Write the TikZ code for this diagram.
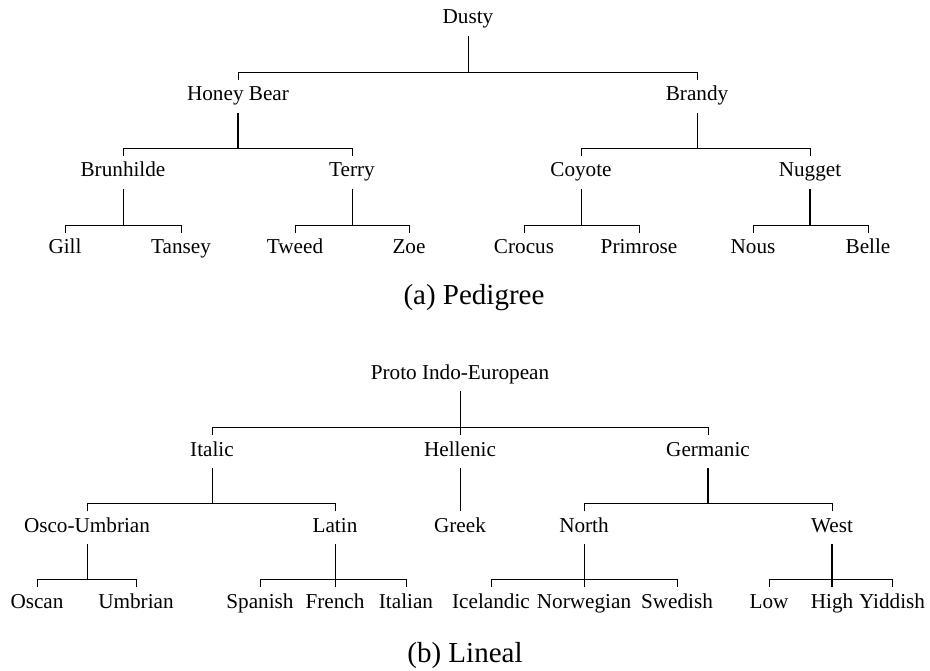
\documentclass[tikz,border=0pt]{standalone}
\usepackage{fontspec}
\setmainfont{Liberation Serif}
\usetikzlibrary{calc}

% Draws the bracket joining a parent to its first and last child:
% a stem from the parent down to a bar, with short ticks at both ends.
\newcommand\brood[4][]{%
  \draw (#3.north) -- ++(0,-8) coordinate (bar) -| (#4.north);
  \draw[#1] (#2.south) -- (#2.south |- bar);
}

\begin{document}
\begin{tikzpicture}[x=1pt, y=-1pt,
    every path/.style={line width=0.9pt},
    heavy/.style={line width=1.6pt},
    lbl/.style={anchor=base, inner xsep=0pt, inner ysep=7pt,
                text height=13.5pt, text depth=4.5pt,
                font=\fontsize{21.2}{25}\selectfont},
    subcaption/.style={anchor=base, inner sep=0pt,
                font=\fontsize{29}{33}\selectfont}]
  \useasboundingbox (0,0) rectangle (930,671);

  % ---- (a) Pedigree ----
  \node[lbl] (dusty)    at (468,24)  {Dusty};
  \node[lbl] (honey)    at (238,101) {Honey Bear};
  \node[lbl] (brandy)   at (697,101) {Brandy};
  \node[lbl] (brun)     at (123,177) {Brunhilde};
  \node[lbl] (terry)    at (352,177) {Terry};
  \node[lbl] (coyote)   at (581,177) {Coyote};
  \node[lbl] (nugget)   at (810,177) {Nugget};
  \node[lbl] (gill)     at (65,254)  {Gill};
  \node[lbl] (tansey)   at (181,254) {Tansey};
  \node[lbl] (tweed)    at (295,254) {Tweed};
  \node[lbl] (zoe)      at (409,254) {Zoe};
  \node[lbl] (crocus)   at (524,254) {Crocus};
  \node[lbl] (primrose) at (639,254) {Primrose};
  \node[lbl] (nous)     at (753,254) {Nous};
  \node[lbl] (belle)    at (868,254) {Belle};
  \node[subcaption] (capA) at (474,305) {(a) Pedigree};

  \brood{dusty}{honey}{brandy}
  \brood[heavy]{honey}{brun}{terry}
  \brood{brandy}{coyote}{nugget}
  \brood{brun}{gill}{tansey}
  \brood{terry}{tweed}{zoe}
  \brood{coyote}{crocus}{primrose}
  \brood[heavy]{nugget}{nous}{belle}

  % ---- (b) Lineal ----
  \node[lbl] (pie)       at (460,379) {Proto Indo-European};
  \node[lbl] (italic)    at (212,456) {Italic};
  \node[lbl] (hellenic)  at (460,456) {Hellenic};
  \node[lbl] (germanic)  at (708,456) {Germanic};
  \node[lbl] (osco)      at (87,532)  {Osco-Umbrian};
  \node[lbl] (latin)     at (335,532) {Latin};
  \node[lbl] (greek)     at (460,532) {Greek};
  \node[lbl] (north)     at (584,532) {North};
  \node[lbl] (west)      at (832,532) {West};
  \node[lbl] (oscan)     at (37,608)  {Oscan};
  \node[lbl] (umbrian)   at (136,608) {Umbrian};
  \node[lbl] (spanish)   at (260,608) {Spanish};
  \node[lbl] (french)    at (335,608) {French};
  \node[lbl] (italian)   at (406,608) {Italian};
  \node[lbl] (icelandic) at (491,608) {Icelandic};
  \node[lbl] (norwegian) at (584,608) {Norwegian};
  \node[lbl] (swedish)   at (677,608) {Swedish};
  \node[lbl] (low)       at (769,608) {Low};
  \node[lbl] (high)      at (832,608) {High};
  \node[lbl] (yiddish)   at (892,608) {Yiddish};
  \node[subcaption] (capB) at (465,662) {(b) Lineal};

  \brood{pie}{italic}{germanic}
  \draw (pie.south) -- (hellenic.north);
  \brood{italic}{osco}{latin}
  \draw (hellenic.south) -- (greek.north);
  \brood[heavy]{germanic}{north}{west}
  \brood{osco}{oscan}{umbrian}
  \brood{latin}{spanish}{italian}
  \draw (latin.south) -- (french.north);
  \brood{north}{icelandic}{swedish}
  \draw (north.south) -- (norwegian.north);
  \brood[heavy]{west}{low}{yiddish}
  \draw[heavy] (west.south) -- (high.north);
\end{tikzpicture}
\end{document}
